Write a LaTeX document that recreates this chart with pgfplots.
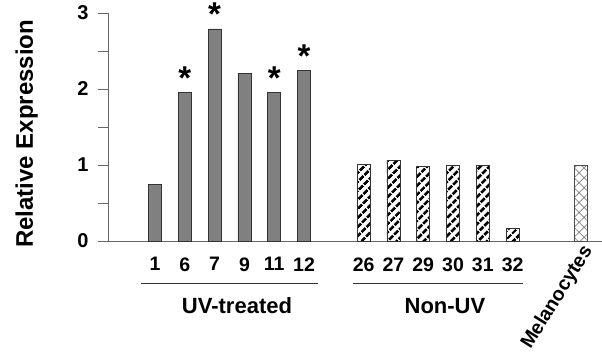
\documentclass[border=0pt]{standalone}
\usepackage{pgfplots}
\pgfplotsset{compat=1.18}
\usepackage{fontspec}
\setmainfont{Liberation Sans}
\usetikzlibrary{patterns.meta}
\begin{document}
\begin{tikzpicture}
\useasboundingbox (-108pt,-115pt) rectangle (494pt,241pt);
\begin{axis}[
  scale only axis,
  width=494pt, height=228pt,
  xmin=-1.58, xmax=15.0,
  ymin=0, ymax=3,
  axis lines=left,
  axis line style={-, black!60, line width=0.8pt},
  ytick={0,1,2,3},
  minor ytick={0.5,1.5,2.5},
  major tick length=10pt, minor tick length=10pt,
  tick align=outside,
  ytick style={black!60, line width=0.8pt},
  minor tick style={black!60, line width=0.8pt},
  yticklabel style={font=\fontsize{20}{20}\selectfont\bfseries, xshift=-6pt},
  /pgf/number format/assume math mode=true,
  xtick={0,1,2,3,4,5,7,8,9,10,11,12},
  xticklabels={1,6,7,9,11,12,26,27,29,30,31,32},
  xtick style={draw=none},
  xticklabel style={font=\fontsize{19.5}{19.5}\selectfont\bfseries, yshift=-3pt},
  extra x ticks={14.3},
  extra x tick labels={Melanocytes},
  extra x tick style={xticklabel style={xshift=9pt, yshift=9pt, rotate=58, anchor=east, font=\fontsize{19.5}{19.5}\selectfont\bfseries}},
  ylabel={Relative Expression},
  ylabel style={font=\fontsize{24}{24}\selectfont\bfseries, at={(axis description cs:-0.152,0.47)}, anchor=base},
  clip=false,
  ybar, bar width=13pt, bar shift=0pt,
]
\addplot[fill=black!50, draw=black!80, line width=0.7pt,
  point meta=explicit symbolic,
  nodes near coords,
  nodes near coords style={font=\fontsize{33}{33}\selectfont\bfseries, anchor=base, yshift=3pt}]
  coordinates {(0,0.75) [] (1,1.95) [*] (2,2.79) [*] (3,2.21) [] (4,1.96) [*] (5,2.25) [*]};
\addplot[draw=black!80, line width=0.7pt, fill=white,
  postaction={pattern={Lines[angle=45, distance=6.4pt, line width=3pt]}, pattern color=black}]
  coordinates {(7,1.01) (8,1.06) (9,0.98) (10,1.00) (11,1.00) (12,0.17)};
\addplot[draw=black!70, line width=0.7pt, fill=white,
  postaction={pattern={Hatch[angle=45, distance=7pt, line width=0.7pt]}, pattern color=black!50}]
  coordinates {(14.3,1.00)};
\draw[black!80, line width=0.9pt] (axis cs:-0.47,-0.553) -- (axis cs:5.47,-0.553);
\draw[black!80, line width=0.9pt] (axis cs:6.64,-0.553) -- (axis cs:12.35,-0.553);
\node[font=\fontsize{22}{22}\selectfont\bfseries] at (axis cs:2.75,-0.855) {UV-treated};
\node[font=\fontsize{22}{22}\selectfont\bfseries] at (axis cs:9.73,-0.855) {Non-UV};
\end{axis}
\end{tikzpicture}
\end{document}
